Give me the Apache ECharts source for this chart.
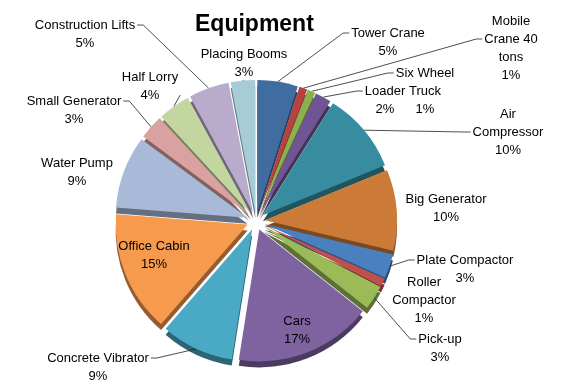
<!DOCTYPE html>
<html><head><meta charset="utf-8">
<script src="https://cdn.jsdelivr.net/npm/echarts@6/dist/echarts.min.js"></script>
<style>html,body{margin:0;padding:0;background:#fff}#c{width:566px;height:391px}</style>
</head><body><div id="c"></div>
<script>
// ---- data ----
const categories = ['Tower Crane','Mobile Crane 40 tons','Six Wheel Truck','Loader','Air Compressor','Big Generator','Plate Compactor','Roller Compactor','Pick-up','Cars','Concrete Vibrator','Office Cabin','Water Pump','Small Generator','Half Lorry','Construction Lifts','Placing Booms'];
const shares = [5,1,1,2,10,10,3,1,3,17,9,15,9,3,4,5,3];
const labelText = ['Tower Crane','Mobile\nCrane 40\ntons','Six Wheel\nTruck','Loader','Air\nCompressor','Big Generator','Plate Compactor','Roller\nCompactor','Pick-up','Cars','Concrete Vibrator','Office Cabin','Water Pump','Small Generator','Half Lorry','Construction Lifts','Placing Booms'];

// ---- styling / layout ----
const colors = ['#406c9f','#b8423f','#8cb04b','#6f5595','#378c9f','#cc7a38','#4a7fc0','#c0504d','#9bbb59','#7f63a1','#4aa9c4','#f69a4e','#a9b9d8','#d9a1a0','#c4d6a0','#b9abcb','#a7ccd8'];
const labelCenters = [[388,42],[511,48],[425,91],[385,100],[508,132],[446,208],[465,269],[424,300],[440,348],[297,330],[98,367],[154,255],[77,172],[74,110],[150,86],[85,34],[244,63]];
const lineAttachRow = [0,1,0,0,1,0,0,0,0,0,0,0,0,0,1,0,0];
const lineSide = ['l','l','l','l','l','','l','','l','','r','','','r','r','r','b'];
const LH = 18;
const OFFSET = 9;

function darken(hex, f) {
  const n = parseInt(hex.slice(1), 16);
  const r = Math.round(((n >> 16) & 255) * f), g = Math.round(((n >> 8) & 255) * f), b = Math.round((n & 255) * f);
  return 'rgb(' + r + ',' + g + ',' + b + ')';
}

const center = [256, 221];
const radius = 132;

// selection (explode) offset vector of each slice, derived from the data
const total = shares.reduce((a, b) => a + b, 0);
const explode = [];
(function () {
  let cum = 0;
  shares.forEach(v => {
    const th = (90 - 360 * (cum + v / 2) / total) * Math.PI / 180;
    explode.push([OFFSET * Math.cos(th), -OFFSET * Math.sin(th)]);
    cum += v;
  });
})();

const mainData = categories.map((name, i) => ({
  name: name,
  value: shares[i],
  selected: true,
  itemStyle: { color: colors[i] },
  labelLine: { show: !!lineSide[i] }
}));
const depthData = categories.map((name, i) => ({
  name: name,
  value: shares[i],
  selected: true,
  itemStyle: { color: darken(colors[i], 0.6) }
}));

const chart = echarts.init(document.getElementById('c'), null, { renderer: 'canvas' });
chart.setOption({
  backgroundColor: '#fff',
  animation: false,
  title: {
    text: 'Equipment',
    left: 190, top: 8,
    textStyle: { fontFamily: 'Liberation Sans', fontWeight: 'bold', fontSize: 23, color: '#000' }
  },
  series: [
    {
      type: 'pie',
      z: 1,
      silent: true,
      center: [center[0], center[1] + 6],
      radius: radius,
      startAngle: 90,
      clockwise: true,
      selectedMode: 'multiple',
      selectedOffset: OFFSET,
      label: { show: false },
      labelLine: { show: false },
      emphasis: { disabled: true },
      data: depthData
    },
    {
      type: 'pie',
      z: 2,
      center: center,
      radius: radius,
      startAngle: 90,
      clockwise: true,
      selectedMode: 'multiple',
      selectedOffset: OFFSET,
      avoidLabelOverlap: false,
      emphasis: { disabled: true },
      itemStyle: { borderWidth: 0 },
      label: {
        show: true,
        position: 'outside',
        formatter: p => labelText[p.dataIndex] + '\n' + p.value + '%',
        fontFamily: 'Liberation Sans',
        fontSize: 13,
        lineHeight: LH,
        color: '#000'
      },
      labelLine: { show: true, length: 10, length2: 6, lineStyle: { color: '#222', width: 0.8 } },
      labelLayout: function (p) {
        const i = p.dataIndex;
        const o = explode[i];
        const pos = [labelCenters[i][0] - o[0], labelCenters[i][1] - o[1]];
        const r = p.labelRect;
        const rightSide = (r.x + r.width / 2) > center[0];
        const anchorX = rightSide ? r.x : r.x + r.width;
        const res = {
          align: 'center',
          dx: pos[0] - anchorX,
          dy: pos[1] - (r.y + r.height / 2)
        };
        const pts = p.labelLinePoints;
        const side = lineSide[i];
        if (pts && pts.length && side) {
          const a = pts[0];
          const left = pos[0] - r.width / 2, right = pos[0] + r.width / 2;
          const top = pos[1] - r.height / 2, bottom = pos[1] + r.height / 2;
          const rowY = top + LH * (lineAttachRow[i] + 0.5);
          if (side === 'l') {
            const mx = Math.max(left - 8, Math.min(a[0], left - 2));
            res.labelLinePoints = [a, [mx, rowY], [left - 2, rowY]];
          } else if (side === 'r') {
            const mx = Math.min(right + 8, Math.max(a[0], right + 2));
            res.labelLinePoints = [a, [mx, rowY], [right + 2, rowY]];
          } else {
            res.labelLinePoints = [a, [pos[0], (a[1] + bottom) / 2], [pos[0], bottom]];
          }
        }
        return res;
      },
      data: mainData
    }
  ]
});
</script>
</body></html>
